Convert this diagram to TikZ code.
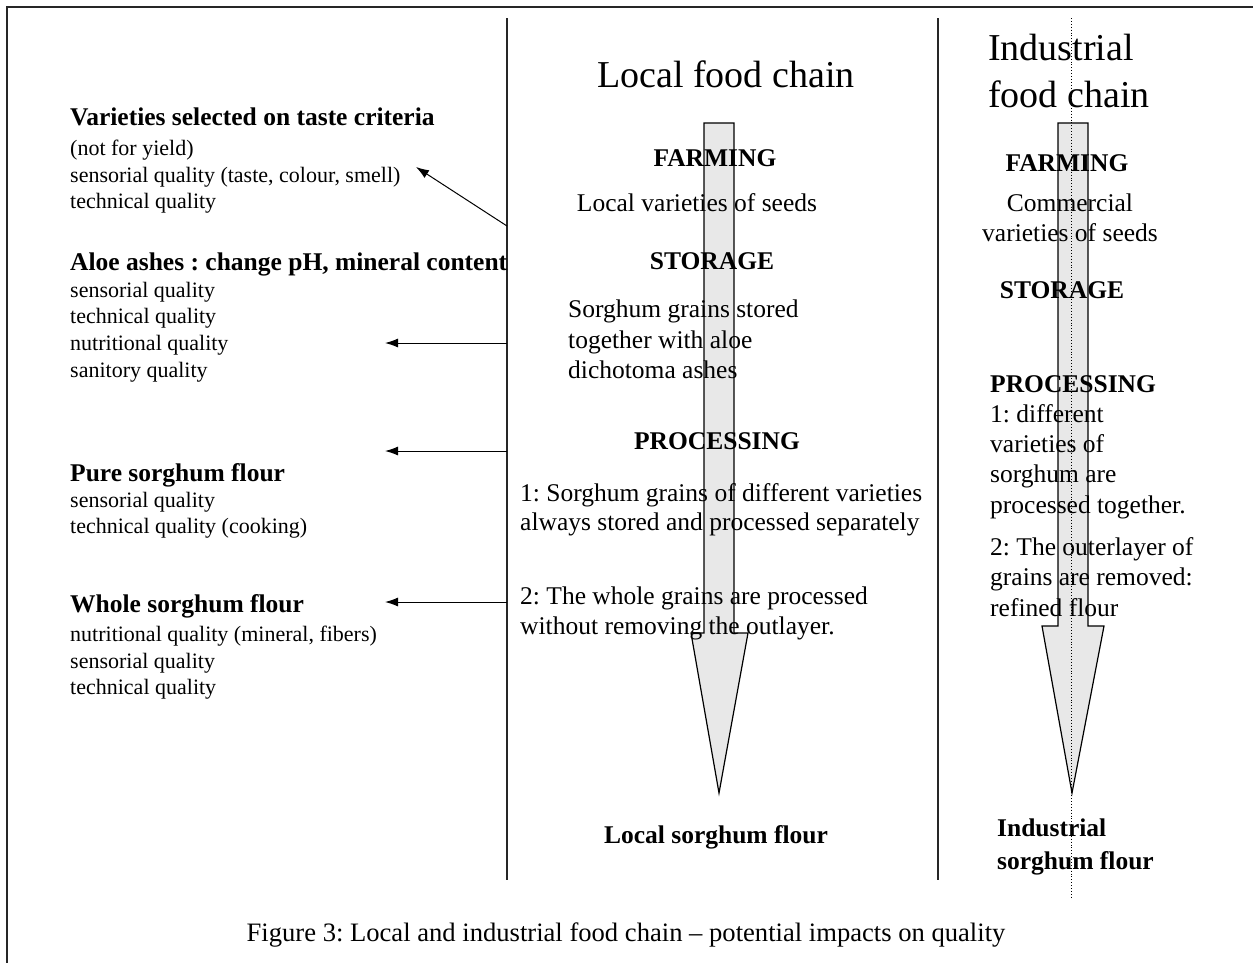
\documentclass[tikz,border=0pt]{standalone}
\usepackage{fontspec}
\setmainfont{Liberation Serif}
\usetikzlibrary{arrows.meta}
\frenchspacing
\tikzset{
  small/.style={font=\fontsize{22}{26}\selectfont, inner sep=0pt, anchor=base west},
  smallhead/.style={font=\fontsize{25.5}{30}\selectfont\bfseries, inner sep=0pt, anchor=base west},
  head/.style={font=\fontsize{25.5}{30}\selectfont\bfseries, inner sep=0pt, anchor=base},
  headw/.style={font=\fontsize{25.5}{30}\selectfont\bfseries, inner sep=0pt, anchor=base west},
  body/.style={font=\fontsize{25.5}{30}\selectfont, inner sep=0pt, anchor=base west},
  bodyc/.style={font=\fontsize{25.5}{30}\selectfont, inner sep=0pt, anchor=base},
  bigtitle/.style={font=\fontsize{38}{47}\selectfont, inner sep=0pt},
  blockarrow/.style={draw=black, fill=black!9, line width=1.2pt, line join=miter},
  lnk/.style={-{Latex[length=13pt,width=9pt]}, line width=1pt},
  divider/.style={line width=1.2pt, draw=black!85}
}
\begin{document}
\begin{tikzpicture}[x=1pt,y=-1pt]
\useasboundingbox (0,0) rectangle (1253,962);
% frame
\draw[line width=2.2pt, draw=black!85] (7,970) -- (7,7) -- (1260,7);
% dividers
\coordinate (d1t) at (507,18); \coordinate (d1b) at (507,880);
\coordinate (d2t) at (938,18); \coordinate (d2b) at (938,880);
\draw[divider] (d1t) -- (d1b);
\draw[divider] (d2t) -- (d2b);

% block arrows
\draw[blockarrow] (704,123) -- (734,123) -- (734,633) -- (748,633) -- (719,793) -- (691,633) -- (704,633) -- cycle;
\draw[blockarrow] (1058,123) -- (1088,123) -- (1088,626) -- (1104,626) -- (1072,793) -- (1042,626) -- (1058,626) -- cycle;
% dotted line
\coordinate (dt) at (1071,18); \coordinate (db) at (1071,897);
\draw[dotted, line width=0.9pt] (dt) -- (db);

% titles
\node[bigtitle, anchor=base] (lt) at (726,87) {Local food chain};
\node[bigtitle, anchor=base west] (it1) at (988,60) {Industrial};
\node[bigtitle, anchor=base west] (it2) at (988,107) {food chain};

% local column
\node[head] (lf) at (715,166) {FARMING};
\node[bodyc] (lf1) at (697,211) {Local varieties of seeds};
\node[head] (ls) at (712,269) {STORAGE};
\node[body] (ls1) at (568,317) {Sorghum grains stored};
\node[body] (ls2) at (568,348) {together with aloe};
\node[body] (ls3) at (568,378) {dichotoma ashes};
\node[head] (lp) at (717,449) {PROCESSING};
\node[body] (lp1) at (520,501) {1: Sorghum grains of different varieties};
\node[body] (lp2) at (520,530) {always stored and processed separately};
\node[body] (lp3) at (520,604) {2: The whole grains are processed};
\node[body] (lp4) at (520,634) {without removing the outlayer.};
\node[head] (lo) at (716,843) {Local sorghum flour};

% industrial column
\node[head] (if) at (1067,171) {FARMING};
\node[bodyc] (if1) at (1070,211) {Commercial};
\node[bodyc] (if2) at (1070,241) {varieties of seeds};
\node[head] (is) at (1062,298) {STORAGE};
\node[headw] (ip) at (990,392) {PROCESSING};
\node[body] (ip1) at (990,422) {1: different};
\node[body] (ip2) at (990,452) {varieties of};
\node[body] (ip3) at (990,482) {sorghum are};
\node[body] (ip4) at (990,513) {processed together.};
\node[body] (ip5) at (990,555) {2: The outerlayer of};
\node[body] (ip6) at (990,585) {grains are removed:};
\node[body] (ip7) at (990,616) {refined flour};
\node[headw] (io1) at (997,836) {Industrial};
\node[headw] (io2) at (997,869) {sorghum flour};

% left column
\node[smallhead] (g1h) at (70,125) {Varieties selected on taste criteria};
\node[small] (g1a) at (70,155) {(not for yield)};
\node[small] (g1b) at (70,182) {sensorial quality (taste, colour, smell)};
\node[small] (g1c) at (70,208) {technical quality};

\node[smallhead] (g2h) at (70,270) {Aloe ashes : change pH, mineral content};
\node[small] (g2a) at (70,297) {sensorial quality};
\node[small] (g2b) at (70,323) {technical quality};
\node[small] (g2c) at (70,350) {nutritional quality};
\node[small] (g2d) at (70,377) {sanitory quality};

\node[smallhead] (g3h) at (70,481) {Pure sorghum flour};
\node[small] (g3a) at (70,507) {sensorial quality};
\node[small] (g3b) at (70,533) {technical quality (cooking)};

\node[smallhead] (g4h) at (70,612) {Whole sorghum flour};
\node[small] (g4a) at (70,641) {nutritional quality (mineral, fibers)};
\node[small] (g4b) at (70,668) {sensorial quality};
\node[small] (g4c) at (70,694) {technical quality};

% connectors from divider
\coordinate (a1s) at (507,226); \coordinate (a1e) at (416,167);
\coordinate (a2s) at (507,343); \coordinate (a2e) at (385,343);
\coordinate (a3s) at (507,451); \coordinate (a3e) at (385,451);
\coordinate (a4s) at (507,602); \coordinate (a4e) at (385,602);
\draw[lnk] (a1s) -- (a1e);
\draw[lnk] (a2s) -- (a2e);
\draw[lnk] (a3s) -- (a3e);
\draw[lnk] (a4s) -- (a4e);

% caption
\node[font=\fontsize{26.6}{32}\selectfont, inner sep=0pt, anchor=base] (cap) at (626,941) {Figure 3: Local and industrial food chain -- potential impacts on quality};
\end{tikzpicture}
\end{document}
